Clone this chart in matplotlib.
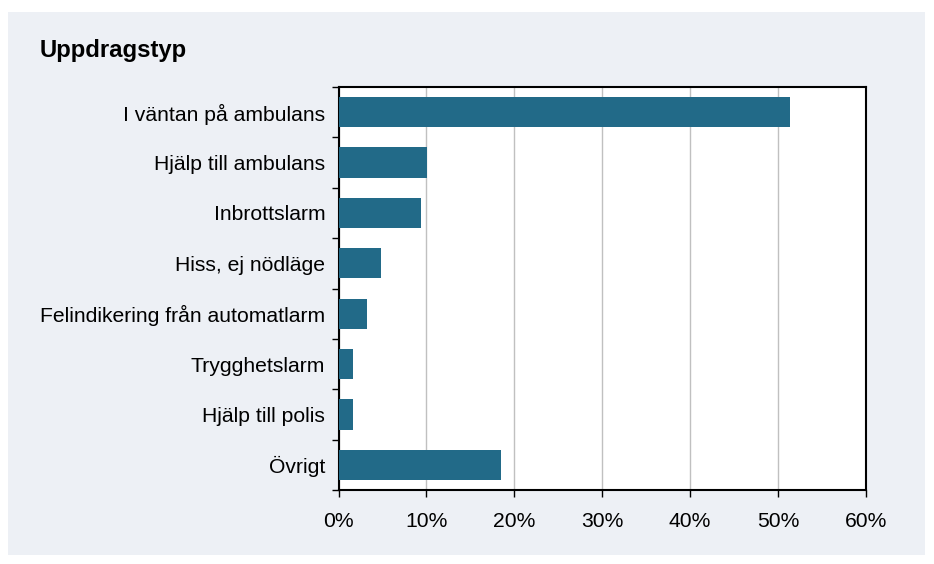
import matplotlib.pyplot as plt
from matplotlib.patches import Rectangle
from matplotlib.ticker import FuncFormatter, FixedLocator

plt.rcParams['font.family'] = ['Liberation Sans', 'DejaVu Sans']

categories = [
    "I väntan på ambulans",
    "Hjälp till ambulans",
    "Inbrottslarm",
    "Hiss, ej nödläge",
    "Felindikering från automatlarm",
    "Trygghetslarm",
    "Hjälp till polis",
    "Övrigt",
]
shares = [51.3, 10.1, 9.4, 4.8, 3.2, 1.6, 1.6, 18.5]
x_ticks = [0, 10, 20, 30, 40, 50, 60]

BAR_COLOR = "#226a88"
PANEL_COLOR = "#edf0f5"

W, H = 934, 564
fig = plt.figure(figsize=(W / 100, H / 100), dpi=100)
fig.patch.set_facecolor("white")
fig.patches.append(Rectangle((8 / W, 1 - 555 / H), 917 / W, 543 / H,
                             transform=fig.transFigure, facecolor=PANEL_COLOR,
                             edgecolor="none", zorder=-10))

ax = fig.add_axes([338.5 / W, 1 - 490 / H, 527.5 / W, 403 / H])
ax.set_facecolor("white")

pos = list(range(len(categories)))
ax.barh(pos, shares, height=0.6, color=BAR_COLOR, zorder=3)
ax.set_ylim(len(categories) - 0.5, -0.5)
ax.set_xlim(0, 60)

ax.set_yticks(pos)
ax.set_yticklabels(categories, fontsize=15.2)
ax.tick_params(axis="y", length=0, pad=9.5)
ax.yaxis.set_minor_locator(FixedLocator([p - 0.5 for p in pos] + [len(pos) - 0.5]))
ax.tick_params(axis="y", which="minor", length=5, width=1, direction="out")

ax.set_xticks(x_ticks)
ax.xaxis.set_major_formatter(FuncFormatter(lambda v, _: f"{v:.0f}%"))
ax.tick_params(axis="x", length=5, width=1, direction="out", labelsize=15.2, pad=11)
ax.grid(axis="x", color="#c0c0c0", linewidth=1, zorder=1)

for s in ax.spines.values():
    s.set_color("black")
    s.set_linewidth(1.5)

fig.text(40 / W, 1 - 50 / H, "Uppdragstyp", fontsize=17.2, fontweight="bold",
         va="center", ha="left")

fig.savefig("out.png", dpi=100)
